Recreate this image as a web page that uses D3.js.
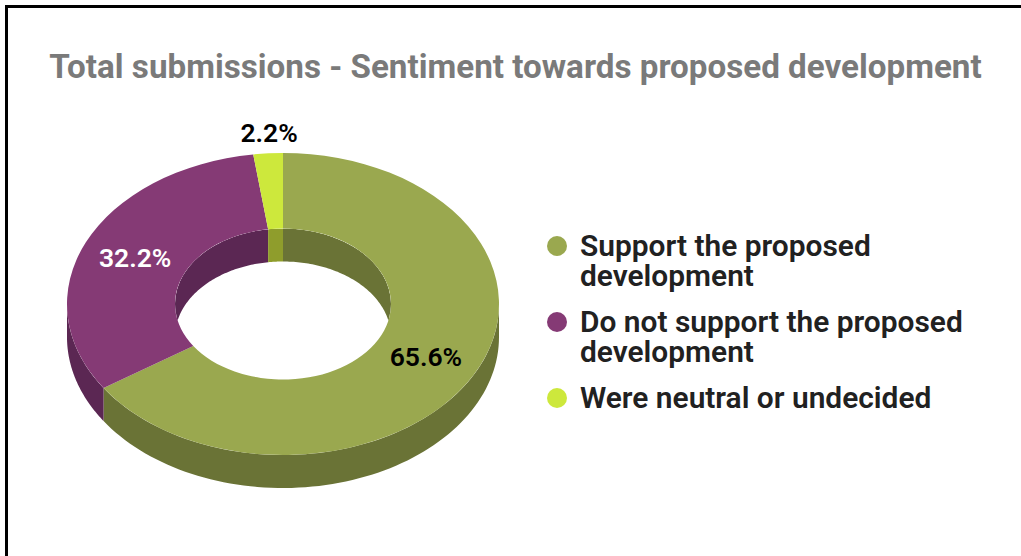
<!DOCTYPE html>
<html>
<head>
<meta charset="utf-8">
<script src="https://cdn.jsdelivr.net/npm/d3@7"></script>
<style>
  html, body { margin: 0; padding: 0; background: #fff; }
  svg { display: block; }
  text { font-family: Roboto, sans-serif; }
</style>
</head>
<body>
<svg id="chart"></svg>
<script>
const titleText = 'Total submissions - Sentiment towards proposed development';
const categories = ['Support the proposed development', 'Do not support the proposed development', 'Were neutral or undecided'];
const legendLines = [['Support the proposed', 'development'], ['Do not support the proposed', 'development'], ['Were neutral or undecided']];
const values = [65.6, 32.2, 2.2];
const topColors = ['#9aa84f', '#853a75', '#cde83c'];
const wallColors = ['#6a7336', '#5b2753', '#8f9d2c'];
const labelColors = ['#000000', '#ffffff', '#000000'];

// Dimensions
const width = 1021, height = 556;
const cx = 283, cy = 304;
const rOuter = 216, rInner = 108;
const squash = 151 / 216; // tilt of the donut
const depth = 33;

const svg = d3.select('#chart').attr('width', width).attr('height', height);

// Frame, only top and left sides show in the crop
svg.append('path')
  .attr('d', `M6.5,${height}V6.5H${width}`)
  .attr('fill', 'none')
  .attr('stroke', '#000')
  .attr('stroke-width', 3);

// Title
svg.append('text')
  .attr('x', 515.5)
  .attr('y', 78)
  .attr('text-anchor', 'middle')
  .attr('font-size', 33.2)
  .attr('font-weight', 700)
  .attr('fill', '#7a7a7a')
  .text(titleText);

// Slices, clockwise from 12 o'clock
const pie = d3.pie().sort(null);
const slices = pie(values);
const arc = d3.arc().innerRadius(rInner).outerRadius(rOuter);

// Wall between two angles: the top edge follows the ellipse, bottom edge is depth lower
function wall(r, a0, a1) {
  const step = (a1 - a0) / 80;
  const angles = d3.range(81).map(i => a0 + i * step);
  return d3.area()
    .x(a => cx + r * Math.sin(a))
    .y0(a => cy - r * squash * Math.cos(a))
    .y1(a => cy - r * squash * Math.cos(a) + depth)(angles);
}

const defs = svg.append('defs');
defs.append('clipPath')
  .attr('id', 'hole')
  .append('ellipse')
  .attr('cx', cx)
  .attr('cy', cy)
  .attr('rx', rInner)
  .attr('ry', rInner * squash);

const outerWalls = svg.append('g');
const innerWalls = svg.append('g').attr('clip-path', 'url(#hole)');

slices.forEach((s, i) => {
  // front half of the outer rim
  const a0 = Math.max(s.startAngle, Math.PI / 2);
  const a1 = Math.min(s.endAngle, Math.PI * 1.5);
  if (a1 > a0) {
    outerWalls.append('path').attr('d', wall(rOuter, a0, a1)).attr('fill', wallColors[i]);
  }
  // back half of the hole
  [[0, Math.PI / 2], [Math.PI * 1.5, Math.PI * 2]].forEach(([lo, hi]) => {
    const b0 = Math.max(s.startAngle, lo);
    const b1 = Math.min(s.endAngle, hi);
    if (b1 > b0) {
      innerWalls.append('path').attr('d', wall(rInner, b0, b1)).attr('fill', wallColors[i]);
    }
  });
});

// Top face
svg.append('g')
  .attr('transform', `translate(${cx},${cy}) scale(1,${squash})`)
  .selectAll('path')
  .data(slices)
  .join('path')
  .attr('d', arc)
  .attr('fill', (d, i) => topColors[i]);

// Value labels, the thin slice gets its label outside the rim
svg.append('g')
  .selectAll('text')
  .data(slices)
  .join('text')
  .attr('x', d => {
    const mid = (d.startAngle + d.endAngle) / 2;
    return d.value < 5 ? cx + rOuter * Math.sin(mid) + 1 : cx + arc.centroid(d)[0];
  })
  .attr('y', d => {
    const mid = (d.startAngle + d.endAngle) / 2;
    return d.value < 5 ? cy - rOuter * squash * Math.cos(mid) - 11 : cy + arc.centroid(d)[1] * squash + 9;
  })
  .attr('text-anchor', 'middle')
  .attr('font-size', 26.5)
  .attr('font-weight', 600)
  .attr('fill', (d, i) => labelColors[i])
  .text(d => d.value.toFixed(1) + '%');

// Legend
const legendY = d3.scalePoint().domain(categories).range([246, 398]);
const legend = svg.append('g')
  .selectAll('g')
  .data(categories)
  .join('g')
  .attr('transform', d => `translate(557,${legendY(d)})`);

legend.append('circle')
  .attr('r', 10)
  .attr('fill', (d, i) => topColors[i]);

legend.append('text')
  .attr('font-size', 29.9)
  .attr('font-weight', 600)
  .attr('fill', '#212121')
  .selectAll('tspan')
  .data((d, i) => legendLines[i])
  .join('tspan')
  .attr('x', 23)
  .attr('y', (d, i) => 10 + i * 30)
  .text(d => d);
</script>
</body>
</html>
